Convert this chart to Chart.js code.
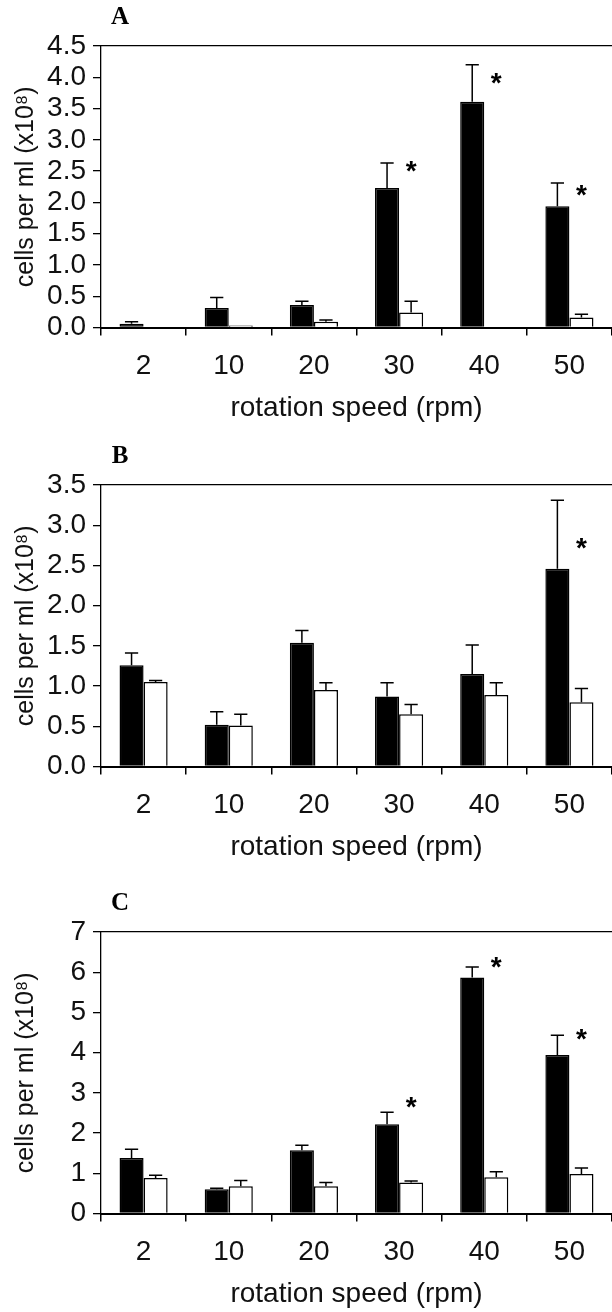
<!DOCTYPE html>
<html><head><meta charset="utf-8">
<script src="https://cdn.jsdelivr.net/npm/chart.js@4.4.1/dist/chart.umd.min.js"></script>
<style>
html,body{margin:0;padding:0;background:#fff;width:612px;height:1312px;overflow:hidden;position:relative}
.p{position:absolute;left:0;width:612px;height:426px}
canvas{display:block}
</style></head><body>
<div class="p" style="top:0"><canvas id="cA" width="612" height="426"></canvas></div>
<div class="p" style="top:439px"><canvas id="cB" width="612" height="426"></canvas></div>
<div class="p" style="top:886px"><canvas id="cC" width="612" height="426"></canvas></div>
<script>
// ---- data ----
const categories = ['2', '10', '20', '30', '40', '50'];
const xTitle = 'rotation speed (rpm)';
const yTitle = 'cells per ml (x10⁸)';

// Panel A
const aBlack    = [0.06, 0.31, 0.36, 2.23, 3.61, 1.94];
const aBlackErr = [0.03, 0.17, 0.06, 0.40, 0.59, 0.37];
const aWhite    = [0.00, 0.03, 0.09, 0.24, 0.00, 0.16];
const aWhiteErr = [0.00, 0.00, 0.03, 0.18, 0.00, 0.05];
const aStars    = [null, null, null, 2.61, 4.02, 2.23];

// Panel B
const bBlack    = [1.26, 0.52, 1.54, 0.87, 1.15, 2.46];
const bBlackErr = [0.15, 0.16, 0.15, 0.17, 0.36, 0.85];
const bWhite    = [1.05, 0.51, 0.95, 0.65, 0.89, 0.80];
const bWhiteErr = [0.02, 0.14, 0.09, 0.12, 0.15, 0.17];
const bStars    = [null, null, null, null, null, 2.80];

// Panel C
const cBlack    = [1.38, 0.60, 1.57, 2.22, 5.87, 3.94];
const cBlackErr = [0.22, 0.03, 0.13, 0.30, 0.26, 0.49];
const cWhite    = [0.88, 0.68, 0.68, 0.77, 0.90, 0.98];
const cWhiteErr = [0.07, 0.14, 0.09, 0.04, 0.14, 0.15];
const cStars    = [null, null, null, 2.81, 6.30, 4.51];

// ---- drawing ----
const SANS = '"Liberation Sans", Arial, sans-serif';
const INK = '#111';

const extrasPlugin = {
  id: 'extras',
  afterDatasetsDraw(chart, args, opts) {
    const ctx = chart.ctx;
    const y = chart.scales.y;
    ctx.save();
    ctx.strokeStyle = '#000';
    ctx.lineWidth = 1.5;
    // error bars
    opts.errors.forEach((errArr, d) => {
      const meta = chart.getDatasetMeta(d);
      const vals = chart.data.datasets[d].data;
      meta.data.forEach((bar, i) => {
        const e = errArr[i];
        if (!e) return;
        const top = y.getPixelForValue(vals[i] + e);
        const cap = bar.width * 0.55;
        ctx.beginPath();
        ctx.moveTo(bar.x, bar.y);
        ctx.lineTo(bar.x, top);
        ctx.moveTo(bar.x - cap / 2, top);
        ctx.lineTo(bar.x + cap / 2, top);
        ctx.stroke();
      });
    });
    // significance stars over the white bars
    const wMeta = chart.getDatasetMeta(1);
    ctx.fillStyle = '#000';
    ctx.font = 'bold 28px ' + SANS;
    ctx.textAlign = 'center';
    ctx.textBaseline = 'alphabetic';
    opts.stars.forEach((s, i) => {
      if (s == null) return;
      const px = wMeta.data[i].x;
      const py = y.getPixelForValue(s);
      ctx.fillText('*', px, py + 16);
    });
    // panel letter
    const area = chart.chartArea;
    ctx.font = 'bold 25px "Liberation Serif", "Times New Roman", serif';
    ctx.textBaseline = 'middle';
    ctx.fillText(opts.letter, area.left + 19, area.top - 28);
    ctx.restore();
  }
};

function makePanel(id, letter, black, blackErr, white, whiteErr, stars, yMax, yStep, decimals) {
  return new Chart(document.getElementById(id), {
    type: 'bar',
    data: {
      labels: categories,
      datasets: [
        { data: black, backgroundColor: '#000', borderColor: '#000', borderWidth: 1.5,
          categoryPercentage: 0.565, barPercentage: 1.0 },
        { data: white, backgroundColor: '#fff', borderColor: '#000', borderWidth: 1.5,
          categoryPercentage: 0.565, barPercentage: 1.0 }
      ]
    },
    options: {
      responsive: false,
      animation: false,
      events: [],
      layout: { padding: { top: 46, left: 0, right: 0, bottom: 0 } },
      plugins: {
        legend: { display: false },
        tooltip: { enabled: false },
        extras: { errors: [blackErr, whiteErr], stars: stars, letter: letter }
      },
      scales: {
        x: {
          type: 'category',
          position: 'bottom',
          offset: true,
          grid: { offset: true, drawOnChartArea: false, drawTicks: true, tickLength: 8,
                  color: '#000', lineWidth: 1.5 },
          border: { display: true, color: '#000', width: 2 },
          ticks: { color: INK, font: { family: SANS, size: 28 }, padding: 14,
                   maxRotation: 0, autoSkip: false },
          title: { display: true, text: xTitle, color: INK,
                   font: { family: SANS, size: 28 }, padding: { top: 0, bottom: 1 } },
          afterFit(s) { s.height = 426 - 46 - 281.5; }
        },
        xTop: {
          type: 'category',
          position: 'top',
          grid: { display: false, drawTicks: false },
          border: { display: true, color: '#000', width: 1.3 },
          ticks: { display: false },
          afterFit(s) { s.height = 0; }
        },
        y: {
          min: 0, max: yMax,
          grid: { drawOnChartArea: false, drawTicks: true, tickLength: 8,
                  color: '#000', lineWidth: 1.3 },
          border: { display: true, color: '#000', width: 1.3 },
          ticks: { stepSize: yStep, autoSkip: false, color: INK, padding: 7,
                   font: { family: SANS, size: 28 },
                   callback: v => Number(v).toFixed(decimals) },
          title: { display: true, text: yTitle, color: INK,
                   font: { family: SANS, size: 25 }, padding: { top: 11, bottom: 0 } },
          afterFit(s) { s.width = 101; }
        }
      }
    },
    plugins: [extrasPlugin]
  });
}

makePanel('cA', 'A', aBlack, aBlackErr, aWhite, aWhiteErr, aStars, 4.5, 0.5, 1);
makePanel('cB', 'B', bBlack, bBlackErr, bWhite, bWhiteErr, bStars, 3.5, 0.5, 1);
makePanel('cC', 'C', cBlack, cBlackErr, cWhite, cWhiteErr, cStars, 7, 1, 0);
</script>
</body></html>
